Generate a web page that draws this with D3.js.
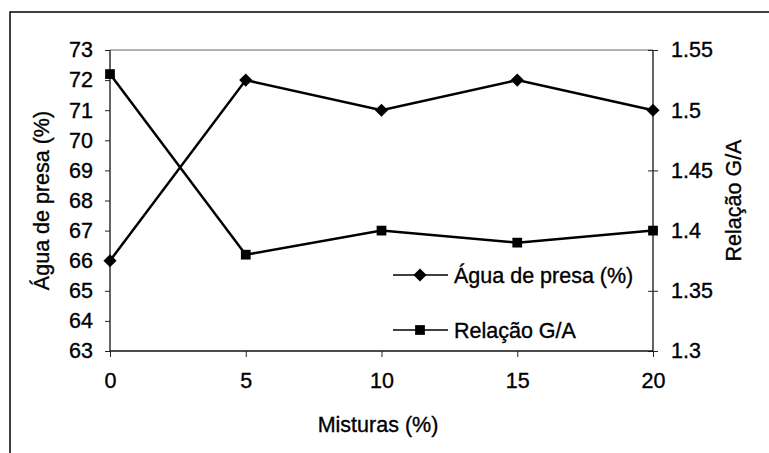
<!DOCTYPE html>
<html><head><meta charset="utf-8">
<script src="https://cdn.jsdelivr.net/npm/d3@7"></script>
<style>body{margin:0;background:#fff}svg{display:block}text{font-family:"Liberation Sans",Arial,sans-serif;fill:#000;stroke:#000;stroke-width:0.35px}</style>
</head><body>
<svg id="c" width="769" height="453"></svg>
<script>
const misturas = [0, 5, 10, 15, 20];
const aguaPresa = [66, 72, 71, 72, 71];
const relacaoGA = [1.53, 1.38, 1.40, 1.39, 1.40];
const xTicks = [0, 5, 10, 15, 20];
const leftTicks = [63, 64, 65, 66, 67, 68, 69, 70, 71, 72, 73];
const rightTicks = [1.3, 1.35, 1.4, 1.45, 1.5, 1.55];
const seriesNames = ["Água de presa (%)", "Relação G/A"];

const svg = d3.select("#c");
const L = 110, R = 653, T = 50, B = 351;
const x = d3.scaleLinear().domain([0, 20]).range([L, R]);
const yL = d3.scaleLinear().domain([63, 73]).range([B, T]);
const yR = d3.scaleLinear().domain([1.3, 1.55]).range([B, T]);
const FS = 21.5;

// outer frame
svg.append("rect").attr("x", 10).attr("y", 12).attr("width", 800).attr("height", 460)
  .attr("fill", "none").attr("stroke", "#000").attr("stroke-width", 1.5);

// top border of plot
svg.append("line").attr("x1", L).attr("x2", R).attr("y1", T).attr("y2", T)
  .attr("stroke", "#666").attr("stroke-width", 1);

// left axis
const gl = svg.append("g").attr("transform", `translate(${L},0)`)
  .call(d3.axisLeft(yL).tickValues(leftTicks).tickFormat(d3.format("d")).tickSize(5).tickPadding(12));
// right axis
const gr = svg.append("g").attr("transform", `translate(${R},0)`)
  .call(d3.axisRight(yR).tickValues(rightTicks).tickFormat(d => d3.format("")(+d.toFixed(2))).tickSize(5).tickPadding(13));
gr.selectAll(".tick line").attr("x1", -5);
// bottom axis
const gb = svg.append("g").attr("transform", `translate(0,${B})`)
  .call(d3.axisBottom(x).tickValues(xTicks).tickSize(6).tickPadding(16));

[gl, gr, gb].forEach(g => {
  g.select(".domain").attr("stroke", "#111").attr("stroke-width", 1.3);
  g.selectAll(".tick line").attr("stroke", "#222").attr("stroke-width", 1);
  g.selectAll(".tick text").style("font-family", '"Liberation Sans",Arial,sans-serif')
    .style("font-size", FS + "px").attr("fill", "#000");
});
gl.select(".domain").attr("d", `M0,${B}V${T}`);
gr.select(".domain").attr("d", `M0,${B}V${T}`);
gb.select(".domain").attr("d", `M${L},0H${R}`);

// axis titles
svg.append("text").attr("transform", `translate(49,${(T + B) / 2}) rotate(-90)`)
  .attr("text-anchor", "middle").style("font-size", FS + "px").text("Água de presa (%)");
svg.append("text").attr("transform", `translate(741,${(T + B) / 2}) rotate(-90)`)
  .attr("text-anchor", "middle").style("font-size", FS + "px").text("Relação G/A");
svg.append("text").attr("x", 378).attr("y", 432)
  .attr("text-anchor", "middle").style("font-size", FS + "px").text("Misturas (%)");

// series
const lineA = d3.line().x((d, i) => x(misturas[i])).y(d => yL(d));
const lineR = d3.line().x((d, i) => x(misturas[i])).y(d => yR(d));
svg.append("path").attr("d", lineA(aguaPresa)).attr("fill", "none").attr("stroke", "#000").attr("stroke-width", 2.5);
svg.append("path").attr("d", lineR(relacaoGA)).attr("fill", "none").attr("stroke", "#000").attr("stroke-width", 2.5);

const diamond = d3.symbol().type(d3.symbolDiamond2).size(110);
const square = d3.symbol().type(d3.symbolSquare).size(95);
svg.selectAll(".da").data(aguaPresa).join("path")
  .attr("transform", (d, i) => `translate(${x(misturas[i])},${yL(d)})`)
  .attr("d", diamond).attr("fill", "#000");
svg.selectAll(".sr").data(relacaoGA).join("path")
  .attr("transform", (d, i) => `translate(${x(misturas[i])},${yR(d)})`)
  .attr("d", square).attr("fill", "#000");

// legend
const leg = [{ y: 275, sym: diamond }, { y: 330, sym: square }];
leg.forEach((l, i) => {
  svg.append("line").attr("x1", 393).attr("x2", 448).attr("y1", l.y).attr("y2", l.y)
    .attr("stroke", "#000").attr("stroke-width", 1.5);
  svg.append("path").attr("transform", `translate(420,${l.y})`).attr("d", l.sym).attr("fill", "#000");
  svg.append("text").attr("x", 454).attr("y", l.y).attr("dy", "0.35em")
    .style("font-size", FS + "px").text(seriesNames[i]);
});
</script>
</body></html>
